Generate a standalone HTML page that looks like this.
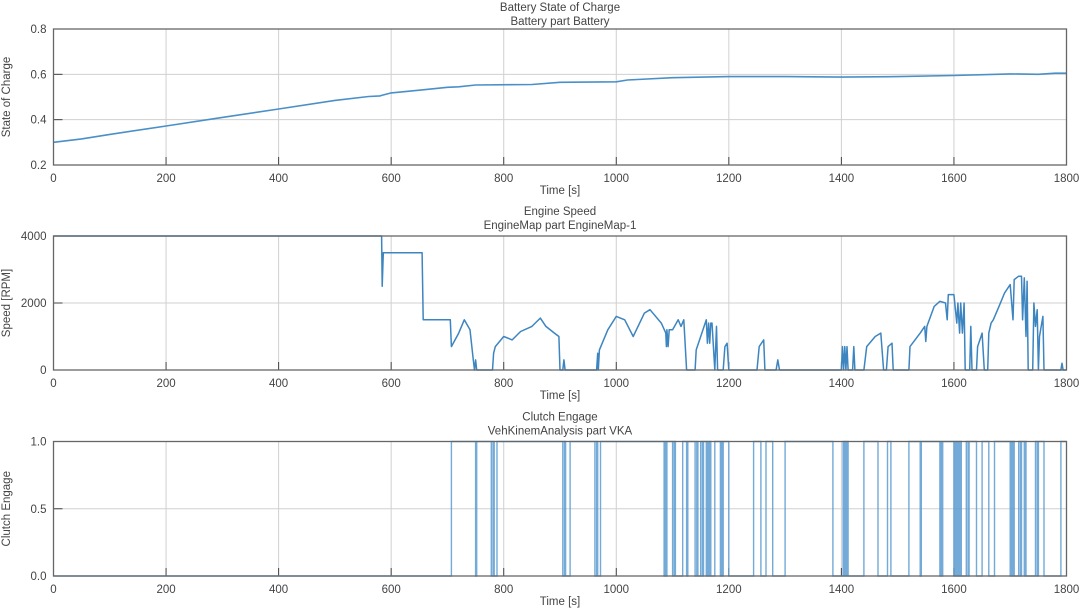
<!DOCTYPE html>
<html><head><meta charset="utf-8"><style>
html,body{margin:0;padding:0;background:#fff;}
svg{display:block;font-family:"Liberation Sans",sans-serif;}
text{fill:#444;font-size:11.5px;}
</style></head><body>
<svg id="s" width="1080" height="614" xmlns="http://www.w3.org/2000/svg"></svg>
<script>
const S=document.getElementById('s');let h='';
const X0=53.5,X1=1066.5,xs=t=>X0+t*(X1-X0)/1800;
function panel(top,bot,yt,ylab,t1,t2,off){
  for(let t=200;t<=1600;t+=200){h+=`<line x1="${xs(t)}" y1="${top}" x2="${xs(t)}" y2="${bot}" stroke="#d0d0d0" stroke-width="1"/>`;}
  yt.forEach(([v,y,l])=>{ if(y>top+1&&y<bot-1)h+=`<line x1="${X0}" y1="${y}" x2="${X1}" y2="${y}" stroke="#d0d0d0"/>`;
    h+=`<line x1="${X0}" y1="${y}" x2="${X0+9}" y2="${y}" stroke="#444"/>`;
    h+=`<text x="${X0-7}" y="${y+4}" text-anchor="end">${l}</text>`;});
  for(let t=0;t<=1800;t+=200){h+=`<line x1="${xs(t)}" y1="${bot}" x2="${xs(t)}" y2="${bot-8}" stroke="#444"/>`;
    h+=`<text x="${xs(t)}" y="${bot+17}" text-anchor="middle">${t}</text>`;}
  h+=`<text x="560" y="${bot+29}" text-anchor="middle">Time [s]</text>`;
  h+=`<text x="560" y="${top-18-off}" text-anchor="middle">${t1}</text>`;
  h+=`<text x="560" y="${top-4-off}" text-anchor="middle">${t2}</text>`;
  h+=`<text transform="translate(10,${(top+bot)/2}) rotate(-90)" text-anchor="middle">${ylab}</text>`;
}
function box(top,bot){h+=`<rect x="${X0}" y="${top}" width="${X1-X0}" height="${bot-top}" fill="none" stroke="#666" stroke-width="1.3"/>`;}
function line(pts,yf){return pts.map((p,i)=>(i?'L':'M')+xs(p[0]).toFixed(1)+','+yf(p[1]).toFixed(1)).join('');}
let T1=29,B1=165;
panel(T1,B1,[[0.8,T1,'0.8'],[0.6,T1+(B1-T1)/3,'0.6'],[0.4,T1+2*(B1-T1)/3,'0.4'],[0.2,B1,'0.2']],'State of Charge','Battery State of Charge','Battery part Battery',0);
const soc=[[0,.30],[50,.315],[100,.335],[200,.372],[300,.41],[400,.447],[500,.485],[560,.502],[580,.505],[600,.518],[650,.53],[700,.543],[720,.545],[750,.553],[850,.555],[900,.565],[1000,.567],[1020,.575],[1100,.585],[1200,.59],[1300,.59],[1400,.588],[1500,.59],[1600,.595],[1700,.602],[1750,.6],[1780,.605],[1800,.605]];
h+=`<path d="${line(soc,v=>B1-(v-.2)*(B1-T1)/.6)}" fill="none" stroke="#4a90c8" stroke-width="1.6"/>`;
box(T1,B1);
let T2=236,B2=370;
panel(T2,B2,[[4000,T2,'4000'],[2000,(T2+B2)/2,'2000'],[0,B2,'0']],'Speed [RPM]','Engine Speed','EngineMap part EngineMap-1',3);
const es=[[0,4000],[583,4000],[584,2500],[586,3500],[655,3500],[657,1500],[705,1500],[707,700],[720,1100],[730,1500],[740,1200],[746,300],[748,0],[750,300],[752,0],[780,0],[782,500],[785,700],[800,1000],[815,900],[830,1150],[850,1300],[865,1550],[875,1300],[890,1100],[898,1000],[900,0],[905,0],[907,300],[909,0],[965,0],[967,500],[968,0],[970,600],[985,1200],[1000,1600],[1015,1500],[1030,1000],[1050,1700],[1060,1800],[1080,1400],[1088,1100],[1089,700],[1090,1200],[1092,700],[1094,1200],[1100,1200],[1110,1500],[1115,1300],[1120,1500],[1125,0],[1140,0],[1142,600],[1150,1000],[1160,1500],[1162,800],[1164,1400],[1166,800],[1168,1400],[1170,1400],[1175,0],[1178,1300],[1180,0],[1190,0],[1193,700],[1197,800],[1200,0],[1250,0],[1254,700],[1262,900],[1264,0],[1284,0],[1287,300],[1290,0],[1400,0],[1402,700],[1404,0],[1406,700],[1408,0],[1410,700],[1412,0],[1420,0],[1422,700],[1424,0],[1440,0],[1445,700],[1460,1000],[1470,1100],[1475,0],[1480,0],[1483,700],[1490,800],[1492,0],[1520,0],[1522,700],[1540,1100],[1548,1300],[1550,850],[1552,1300],[1565,1900],[1575,2050],[1585,2000],[1588,1500],[1590,2250],[1600,2250],[1605,1400],[1607,2000],[1610,1100],[1612,2000],[1615,1100],[1618,2000],[1620,0],[1628,0],[1630,1300],[1632,0],[1640,0],[1642,700],[1648,1000],[1650,1100],[1654,0],[1660,0],[1662,1100],[1666,1400],[1670,1500],[1680,1900],[1690,2300],[1700,2550],[1705,1500],[1707,2700],[1715,2800],[1720,2800],[1722,1500],[1725,2750],[1728,1000],[1730,2650],[1732,0],[1740,0],[1742,2000],[1745,1300],[1748,1800],[1750,0],[1752,1000],[1758,1600],[1760,0],[1790,0],[1792,200],[1794,0],[1800,0]];
h+=`<path d="${line(es,v=>B2-v*(B2-T2)/4000)}" fill="none" stroke="#3d85c0" stroke-width="1.5" stroke-linejoin="round"/>`;
box(T2,B2);
let T3=441.5,B3=576;
panel(T3,B3,[[1,T3,'1.0'],[.5,(T3+B3)/2,'0.5'],[0,B3,'0.0']],'Clutch Engage','Clutch Engage','VehKinemAnalysis part VKA',3);
const zeros=[[750,752],[778,781],[783,788],[905,908],[910,918],[962,965],[967,972],[1085,1087],[1088,1090],[1100,1103],[1105,1118],[1125,1127],[1140,1143],[1145,1150],[1153,1155],[1160,1162],[1164,1166],[1168,1175],[1185,1187],[1188,1190],[1200,1244],[1257,1266],[1278,1300],[1385,1403],[1404,1405],[1407,1409],[1410,1411],[1412,1440],[1465,1482],[1488,1520],[1540,1542],[1575,1577],[1578,1580],[1600,1602],[1603,1605],[1606,1608],[1610,1612],[1613,1622],[1625,1627],[1640,1650],[1662,1672],[1700,1702],[1704,1706],[1707,1715],[1718,1720],[1725,1727],[1728,1745],[1748,1750],[1760,1790]];
let cp=[[0,0],[707,0],[707,1]];
zeros.forEach(([a,b])=>{cp.push([a,1],[a,0],[b,0],[b,1]);});
cp.push([1800,1]);
h+=`<path d="${line(cp,v=>B3-v*(B3-T3))}" fill="none" stroke="#5b9bd0" stroke-width="1.4" stroke-opacity="0.85"/>`;
box(T3,B3);
S.innerHTML=h;
</script>
</body></html>
